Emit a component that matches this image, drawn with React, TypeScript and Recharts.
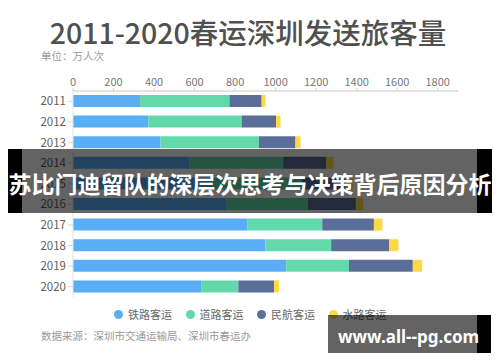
import { Bar, BarChart, XAxis, YAxis } from "recharts";

const years = ["2011", "2012", "2013", "2014", "2015", "2016", "2017", "2018", "2019", "2020"];
const railway = [331, 371, 432, 574, 690, 758, 862, 950, 1053, 635];
const road = [441, 461, 485, 463, 440, 401, 368, 324, 309, 181];
const air = [159, 170, 181, 213, 215, 237, 255, 287, 315, 176];
const water = [19, 22, 25, 36, 35, 37, 42, 45, 46, 25];
const xTicks = [0, 200, 400, 600, 800, 1000, 1200, 1400, 1600, 1800];

const series = [
  { key: "railway", name: "铁路客运", color: "#59aef6" },
  { key: "road", name: "道路客运", color: "#62d9ab" },
  { key: "air", name: "民航客运", color: "#5b6e99" },
  { key: "water", name: "水路客运", color: "#fed945" }
];

const data = years.map((year, i) => ({
  year,
  railway: railway[i],
  road: road[i],
  air: air[i],
  water: water[i]
}));

const font = "'Noto Sans CJK SC', 'Noto Sans', sans-serif";

export default function App() {
  return (
    <div
      style={{
        position: "absolute",
        left: 0,
        top: 0,
        width: 500,
        height: 362,
        background: "#fff",
        overflow: "hidden",
        fontFamily: font
      }}
    >
      <div
        style={{
          position: "absolute",
          left: 0,
          width: 496,
          top: 15,
          textAlign: "center",
          fontSize: 28.5,
          fontWeight: 500,
          color: "#505050",
          lineHeight: "34px"
        }}
      >
        2011-2020春运深圳发送旅客量
      </div>
      <div style={{ position: "absolute", left: 41, top: 49, fontSize: 10.5, color: "#999", lineHeight: "14px" }}>
        单位：万人次
      </div>

      <div style={{ position: "absolute", left: 0, top: 0 }}>
        <BarChart
          width={500}
          height={362}
          data={data}
          layout="vertical"
          margin={{ top: 60, right: 42, bottom: 65, left: 33 }}
        >
          <XAxis
            type="number"
            orientation="top"
            domain={[0, 1900]}
            ticks={xTicks}
            height={31}
            axisLine={{ stroke: "#e3e3e3", strokeWidth: 2 }}
            tickLine={{ stroke: "#d6d6d6" }}
            tickSize={3}
            tick={{ fill: "#777", fontSize: 11, fontFamily: font }}
          />
          <YAxis
            type="category"
            dataKey="year"
            width={40}
            axisLine={{ stroke: "#e3e3e3" }}
            tickLine={{ stroke: "#d6d6d6" }}
            tickSize={5}
            tick={{ fill: "#5f5f5f", fontSize: 11.5, fontFamily: font }}
          />
          {series.map((s) => (
            <Bar
              key={s.key}
              dataKey={s.key}
              name={s.name}
              stackId="total"
              fill={s.color}
              barSize={12}
              isAnimationActive={false}
            />
          ))}
        </BarChart>
      </div>

      <div
        style={{
          position: "absolute",
          left: 114,
          top: 305,
          display: "flex",
          fontSize: 11,
          color: "#666",
          lineHeight: "18px"
        }}
      >
        {series.map((s) => (
          <div key={s.key} style={{ display: "flex", alignItems: "center", width: 71.5 }}>
            <span
              style={{
                width: 9,
                height: 9,
                borderRadius: "50%",
                background: s.color,
                marginRight: 5
              }}
            />
            {s.name}
          </div>
        ))}
      </div>
      <div style={{ position: "absolute", left: 41, top: 329, fontSize: 10.5, color: "#999", lineHeight: "14px" }}>
        数据来源：深圳市交通运输局、深圳市春运办
      </div>

      {/* overlay banner */}
      <div style={{ position: "absolute", left: 8, top: 149, width: 14, height: 64, background: "#000" }} />
      <div
        style={{
          position: "absolute",
          left: 22,
          top: 149,
          width: 455,
          height: 64,
          background: "rgba(0,0,0,0.61)"
        }}
      />
      <div style={{ position: "absolute", left: 477, top: 149, width: 15, height: 64, background: "#000" }} />
      <div
        style={{
          position: "absolute",
          left: 0,
          width: 500,
          top: 166,
          textAlign: "center",
          fontSize: 23,
          fontWeight: 700,
          color: "#fff",
          lineHeight: "34px",
          whiteSpace: "nowrap"
        }}
      >
        苏比门迪留队的深层次思考与决策背后原因分析
      </div>

      {/* watermark */}
      <div
        style={{
          position: "absolute",
          left: 328,
          top: 315,
          width: 149,
          height: 38,
          background: "rgba(0,0,0,0.61)"
        }}
      />
      <div style={{ position: "absolute", left: 477, top: 315, width: 14, height: 38, background: "#000" }} />
      <div
        style={{
          position: "absolute",
          left: 338,
          top: 325,
          fontFamily: "'Noto Sans', sans-serif",
          fontSize: 17,
          fontWeight: 700,
          color: "#fff",
          lineHeight: "24px",
          whiteSpace: "nowrap"
        }}
      >
        www.all--pg.com
      </div>
    </div>
  );
}
